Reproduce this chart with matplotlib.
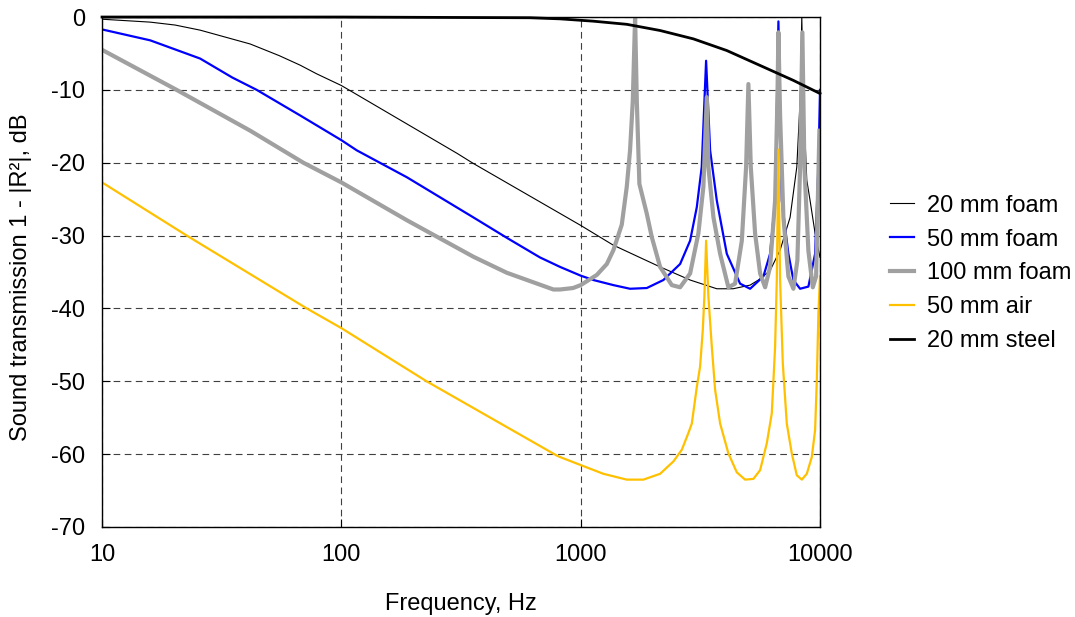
import matplotlib
matplotlib.use("Agg")
import matplotlib.pyplot as plt
from matplotlib.ticker import FixedLocator, FixedFormatter, NullLocator

plt.rcParams['font.family'] = ['Liberation Sans', 'DejaVu Sans']

# values (frequency in Hz, level in dB)
foam20_freq = [10, 15.9, 20.2, 25.7, 41.6, 55.0, 67.2, 78.9, 100, 304, 356, 1000, 1366, 2147, 2866, 3705,
               4334, 5104, 5528, 6185, 6811, 7499, 7998, 8256, 8393, 8522, 8806, 9090, 9539, 10000]
foam20_db = [-0.3, -0.7, -1.1, -1.8, -3.7, -5.3, -6.6, -7.8, -9.4, -18.7, -20.1, -28.6, -31.3, -34.3, -36.1, -37.3,
             -37.3, -36.8, -36.1, -34.8, -32.0, -27.5, -20.6, -11.5, 0.0, -11.5, -22.4, -25.2, -29.7, -33.0]

foam50_freq = [10, 15.9, 25.7, 35.0, 44.3, 67.2, 100, 116, 188, 356, 491, 676, 820, 1000, 1130, 1370, 1608,
               1889, 2216, 2603, 2866, 3056, 3204, 3342, 3474, 3705, 4079, 4636, 5104, 5801, 6185, 6491,
               6702, 6922, 7377, 7741, 8256, 8943, 9539, 9847, 10000]
foam50_db = [-1.7, -3.2, -5.7, -8.3, -10.0, -13.5, -16.9, -18.3, -22.0, -27.5, -30.3, -33.0, -34.3, -35.5, -36.1, -36.8, -37.3,
             -37.2, -36.1, -33.9, -30.7, -26.1, -20.6, -6.0, -18.3, -25.2, -32.5, -36.6, -37.3, -35.6, -32.5, -25.2,
             -0.6, -25.2, -32.5, -36.1, -37.3, -37.0, -32.5, -20.5, -10.0]

foam100_freq = [10, 20.5, 41.6, 69.4, 100, 188, 356, 491, 769, 820, 929,
                1000, 1168, 1286, 1370, 1485, 1558, 1608, 1651, 1688, 1716, 1759, 1889, 1982, 2147,
                2403, 2603, 2866, 3103, 3256, 3365, 3417, 3587, 3825, 4142, 4418, 4713, 4911, 5021,
                5138, 5355, 5620, 5897, 6185, 6491, 6637, 6702, 6811, 7031, 7377, 7741, 8044, 8256,
                8441, 8605, 8943, 9330, 9632, 9942]
foam100_db = [-4.5, -10.0, -15.6, -20.0, -22.7, -27.9, -32.9, -35.1, -37.4, -37.4, -37.2,
              -36.8, -35.4, -33.9, -32.0, -28.5, -23.3, -18.3, -11.5, 0.0, -11.5, -22.9, -27.0, -30.2, -34.3,
              -36.8, -37.1, -35.2, -29.7, -23.3, -11.0, -20.6, -27.5, -32.5, -37.1, -36.6, -30.7, -20.6, -9.2,
              -20.6, -29.7, -35.2, -37.1, -34.3, -25.2, -11.5, -2.1, -13.5, -27.5, -35.6, -37.3, -33.4, -20.6,
              -2.1, -20.6, -32.1, -37.1, -35.6, -15.6]

air50_freq = [10, 22.6, 71.7, 100, 227, 795, 820, 1000, 1244, 1558, 1828, 2147, 2441, 2646, 2819, 2913,
              3056, 3154, 3237, 3287, 3342, 3417, 3532, 3646, 3825, 4142, 4491, 4864, 5268, 5620, 5994,
              6288, 6491, 6598, 6702, 6811, 6990, 7264, 7622, 7998, 8393, 8806, 9240, 9539, 9697, 9847, 10000]
air50_db = [-22.7, -30.0, -40.0, -42.7, -50.0, -60.2, -60.4, -61.5, -62.7, -63.5, -63.5, -62.7, -61.0, -59.4, -57.1, -55.8,
            -50.8, -48.0, -43.0, -38.4, -30.7, -38.4, -45.3, -51.2, -55.8, -59.9, -62.5, -63.5, -63.4, -62.2, -58.5,
            -54.4, -45.3, -36.1, -18.2, -36.1, -47.5, -55.8, -59.9, -62.9, -63.5, -62.7, -60.4, -56.7, -49.9, -40.7, -35.6]

steel20_freq = [10, 100, 615, 820, 1130, 1558, 2147, 2958, 4079, 5620, 7741, 10000]
steel20_db = [0.0, 0.0, -0.1, -0.25, -0.57, -1.0, -1.85, -3.0, -4.6, -6.65, -8.7, -10.5]

x_ticks = [10, 100, 1000, 10000]
x_tick_labels = ['10', '100', '1000', '10000']
y_ticks = [0, -10, -20, -30, -40, -50, -60, -70]

FONT_SIZE = 17


def draw_transmission_chart():
    fig = plt.figure(figsize=(10.75, 6.17), dpi=100)
    ax = fig.add_axes([0.0949, 0.1459, 0.6679, 0.8265])

    ax.plot(foam20_freq, foam20_db, color='black', lw=0.8, label='20 mm foam')
    ax.plot(foam50_freq, foam50_db, color='#0000ff', lw=1.6, label='50 mm foam')
    ax.plot(foam100_freq, foam100_db, color='#a0a0a0', lw=3.0, label='100 mm foam')
    ax.plot(air50_freq, air50_db, color='#ffc000', lw=1.6, label='50 mm air')
    ax.plot(steel20_freq, steel20_db, color='black', lw=2.0, label='20 mm steel', clip_on=False, zorder=5)

    ax.set_xscale('log')
    ax.set_xlim(10, 10000)
    ax.set_ylim(-70, 0)
    ax.xaxis.set_major_locator(FixedLocator(x_ticks))
    ax.xaxis.set_major_formatter(FixedFormatter(x_tick_labels))
    ax.xaxis.set_minor_locator(NullLocator())
    ax.set_yticks(y_ticks)
    ax.set_yticklabels([str(v) for v in y_ticks])
    ax.tick_params(direction='in', length=6, width=0.8, pad=12, labelsize=FONT_SIZE)

    ax.grid(True, color='#404040', linestyle=(0, (6, 4)), linewidth=0.8)
    for spine in ax.spines.values():
        spine.set_linewidth(1.0)
        spine.set_color('black')

    ax.set_xlabel('Frequency, Hz', fontsize=FONT_SIZE)
    ax.set_ylabel('Sound transmission 1 - |R²|, dB', fontsize=FONT_SIZE)
    ax.xaxis.set_label_coords(0.5, -0.13)
    ax.yaxis.set_label_coords(-0.097, 0.49)

    fig.legend(loc='center left', bbox_to_anchor=(0.828, 0.557), frameon=False,
               fontsize=FONT_SIZE, handlelength=1.0, handletextpad=0.55,
               labelspacing=0.5, borderpad=0, borderaxespad=0)

    fig.savefig('out.png', dpi=100)
    return


draw_transmission_chart()
